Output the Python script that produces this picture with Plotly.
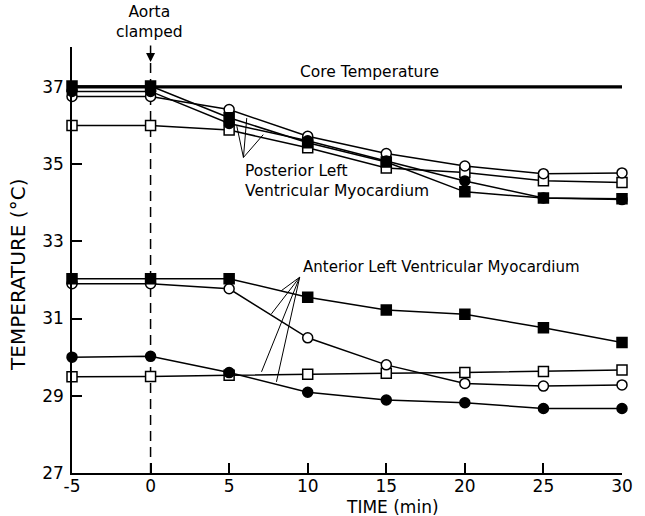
import plotly.graph_objects as go

# ---- data ----
time_min = [-5, 0, 5, 10, 15, 20, 25, 30]
core_x = [-5, 30]
core_temp = [37.0, 37.0]

post_filled_sq = [37.02, 37.02, 36.20, 35.55, 35.05, 34.28, 34.12, 34.10]
post_filled_circ = [36.88, 36.88, 36.05, 35.60, 35.08, 34.56, 34.12, 34.08]
post_open_circ = [36.75, 36.75, 36.41, 35.72, 35.27, 34.95, 34.75, 34.77]
post_open_sq = [36.00, 36.00, 35.88, 35.42, 34.90, 34.78, 34.57, 34.52]

ant_filled_sq = [32.03, 32.03, 32.03, 31.55, 31.22, 31.11, 30.76, 30.38]
ant_open_circ = [31.90, 31.90, 31.77, 30.50, 29.80, 29.32, 29.25, 29.28]
ant_filled_circ = [30.00, 30.02, 29.60, 29.09, 28.89, 28.82, 28.67, 28.67]
ant_open_sq = [29.49, 29.50, 29.53, 29.56, 29.58, 29.60, 29.63, 29.67]

x_ticks = [-5, 0, 5, 10, 15, 20, 25, 30]
x_ticktext = ["-5", "0", "5", "10", "15", "20", "25", "30"]
y_ticks = [27, 29, 31, 33, 35, 37]

FONT = "DejaVu Sans"
fig = go.Figure()

fig.add_trace(go.Scatter(x=core_x, y=core_temp, mode="lines",
                         line=dict(color="black", width=3.2), hoverinfo="skip"))

def series(y, symbol, filled):
    fig.add_trace(go.Scatter(
        x=time_min, y=y, mode="lines+markers", cliponaxis=False,
        line=dict(color="black", width=1.5),
        marker=dict(symbol=symbol, size=10,
                    color="black" if filled else "white",
                    line=dict(color="black", width=1.5))))

series(post_open_sq, "square", False)
series(post_open_circ, "circle", False)
series(post_filled_circ, "circle", True)
series(post_filled_sq, "square", True)
series(ant_open_sq, "square", False)
series(ant_filled_circ, "circle", True)
series(ant_open_circ, "circle", False)
series(ant_filled_sq, "square", True)

# dashed "aorta clamped" line
fig.add_shape(type="line", x0=0, x1=0, y0=27, y1=37.62,
              line=dict(color="black", width=1.5, dash="10px,6px"), layer="below")

# leader lines (annotation geometry)
post_apex = (5.91, 35.17)
post_ends = [(5.49, 35.98), (6.12, 36.19), (7.17, 35.76)]
ant_apex = (9.49, 32.07)
ant_ends = [(8.32, 31.72), (7.69, 31.12), (7.06, 29.62), (8.01, 29.36)]
for apex, ends in ((post_apex, post_ends), (ant_apex, ant_ends)):
    for ex, ey in ends:
        fig.add_shape(type="line", x0=apex[0], y0=apex[1], x1=ex, y1=ey,
                      line=dict(color="black", width=1))

tf = dict(family=FONT, size=15.5, color="black")
fig.add_annotation(x=13.92, y=37.39, text="Core Temperature", showarrow=False, font=tf)
fig.add_annotation(x=5.91, y=34.55, text="Posterior Left<br>Ventricular Myocardium",
                   showarrow=False, xanchor="left", align="left", font=tf)
fig.add_annotation(x=9.57, y=32.33, text="Anterior Left Ventricular Myocardium",
                   showarrow=False, xanchor="left",
                   font=dict(family=FONT, size=15, color="black"))
fig.add_annotation(x=-0.1, xref="x", yref="paper", y=1.058, text="Aorta<br>clamped",
                   showarrow=False, font=tf, yanchor="middle", xanchor="center")
fig.add_annotation(x=0, y=37.64, ax=0, ay=-18, text="", showarrow=True,
                   arrowhead=2, arrowsize=1.2, arrowwidth=1.5, arrowcolor="black")

# axis titles
fig.add_annotation(xref="paper", yref="paper", x=0, y=0.465, xshift=-54,
                   xanchor="center", yanchor="middle",
                   text="TEMPERATURE (°C)", textangle=-90, showarrow=False,
                   font=dict(family=FONT, size=20, color="black"))
fig.add_annotation(xref="paper", yref="paper", x=0.582, y=0, yshift=-34,
                   text="TIME (min)", showarrow=False, yanchor="middle",
                   font=dict(family=FONT, size=17, color="black"))

fig.update_layout(
    width=645, height=516, margin=dict(l=72, r=18, t=47, b=43),
    paper_bgcolor="white", plot_bgcolor="white", showlegend=False,
    font=dict(family=FONT, color="black"),
    xaxis=dict(range=[-5, 30], tickvals=x_ticks, ticktext=x_ticktext,
               ticks="inside", ticklen=10, tickwidth=1.5, tickcolor="black",
               showline=True, linewidth=1.5, linecolor="black",
               showgrid=False, zeroline=False, ticklabelstandoff=-3,
               tickfont=dict(family=FONT, size=17, color="black")),
    yaxis=dict(range=[27, 38.03], tickvals=y_ticks,
               ticks="inside", ticklen=10, tickwidth=1.5, tickcolor="black",
               showline=True, linewidth=1.5, linecolor="black",
               showgrid=False, zeroline=False, ticklabelstandoff=3,
               tickfont=dict(family=FONT, size=17, color="black")),
)

fig.write_html("out.html")
